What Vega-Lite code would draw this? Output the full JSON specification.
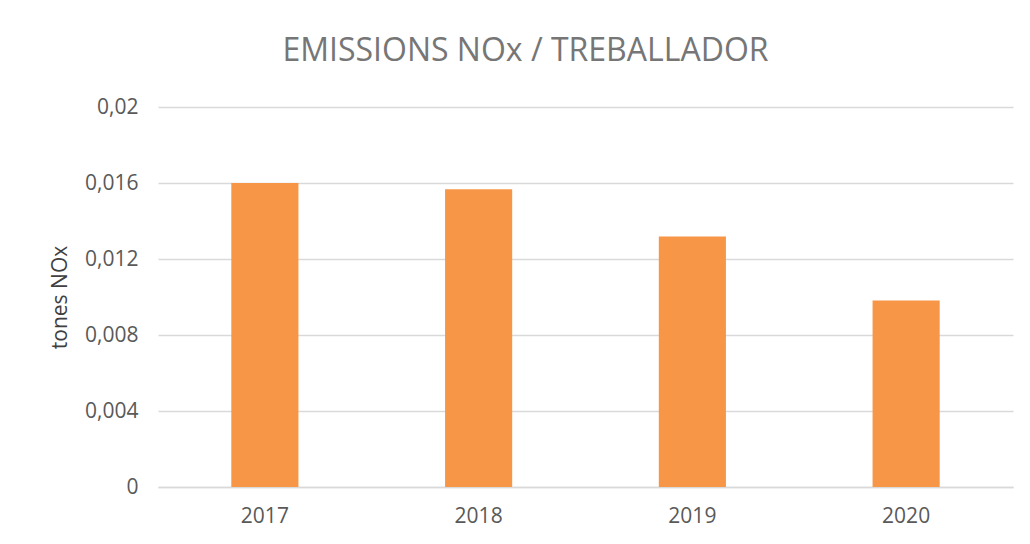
{
  "$schema": "https://vega.github.io/schema/vega-lite/v6.json",
  "width": 855,
  "height": 380,
  "autosize": {"type": "none"},
  "padding": {"left": 158, "top": 107, "right": 17, "bottom": 57},
  "background": "white",
  "title": {
    "text": "EMISSIONS NOx / TREBALLADOR",
    "font": "Open Sans",
    "fontSize": 32,
    "fontWeight": "normal",
    "color": "#767676",
    "anchor": "middle",
    "dx": -60,
    "offset": 28
  },
  "data": {
    "values": [
      {"year": "2017", "value": 0.0160},
      {"year": "2018", "value": 0.01567},
      {"year": "2019", "value": 0.01319},
      {"year": "2020", "value": 0.00981}
    ]
  },
  "mark": {"type": "bar", "color": "#F79646"},
  "encoding": {
    "x": {
      "field": "year",
      "type": "nominal",
      "sort": null,
      "scale": {"paddingInner": 0.686, "paddingOuter": 0.343},
      "axis": {
        "title": null,
        "labelAngle": 0,
        "labelFont": "Open Sans",
        "labelFontSize": 21,
        "labelColor": "#595959",
        "labelPadding": 18,
        "ticks": false,
        "domainColor": "#D9D9D9",
        "domainWidth": 1.5
      }
    },
    "y": {
      "field": "value",
      "type": "quantitative",
      "scale": {"domain": [0, 0.02]},
      "axis": {
        "title": "tones NOx",
        "titleFont": "Open Sans",
        "titleFontSize": 21,
        "titleFontWeight": "normal",
        "titleColor": "#404040",
        "titlePadding": 14,
        "values": [0, 0.004, 0.008, 0.012, 0.016, 0.02],
        "labelExpr": "replace(format(datum.value, '~f'), '.', ',')",
        "labelFont": "Open Sans",
        "labelFontSize": 21,
        "labelColor": "#595959",
        "labelPadding": 20,
        "ticks": false,
        "domain": false,
        "grid": true,
        "gridColor": "#D9D9D9",
        "gridWidth": 1.5
      }
    }
  },
  "config": {"view": {"stroke": null}}
}
